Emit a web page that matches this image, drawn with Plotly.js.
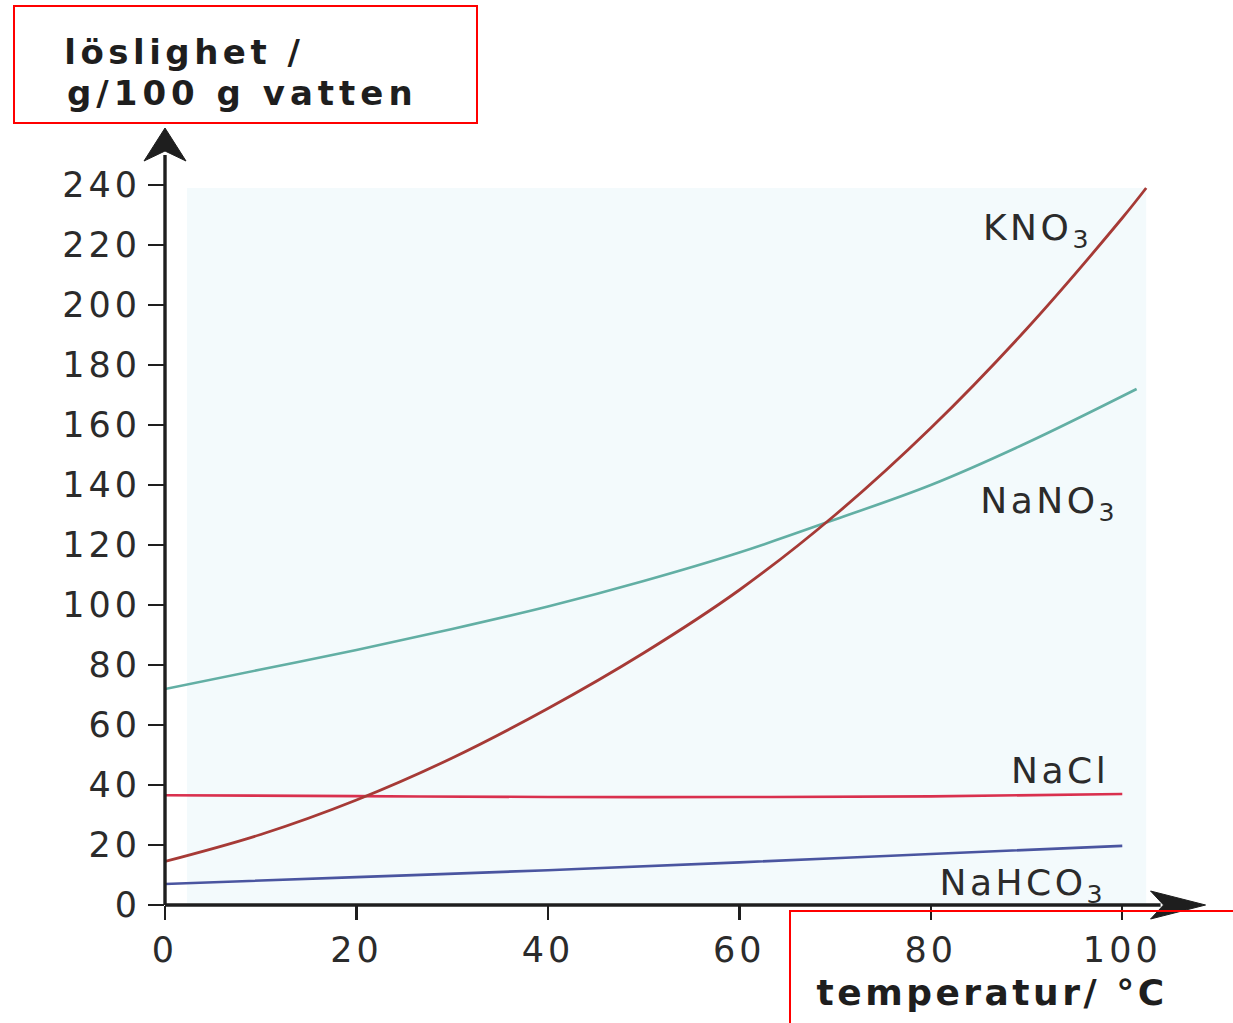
<!DOCTYPE html>
<html>
<head>
<meta charset="utf-8">
<script src="https://cdn.plot.ly/plotly-3.0.1.min.js"></script>
<style>html,body{margin:0;padding:0;background:#fff;}#chart{width:1233px;height:1023px;}</style>
</head>
<body>
<div id="chart"></div>
<script>
// ---- data ----
const temperatureKNO3 = [0, 10, 20, 30, 40, 50, 60, 70, 80, 90, 100, 102.5];
const solubilityKNO3 = [14.5, 23.5, 35, 49, 65.5, 84, 105, 130, 159, 192, 229, 239];

const temperatureNaNO3 = [0, 10, 20, 30, 40, 50, 60, 70, 80, 90, 101.5];
const solubilityNaNO3 = [72, 78.5, 85, 92, 99.5, 108, 117.5, 128.5, 140, 154, 172];

const temperatureNaCl = [0, 20, 40, 60, 80, 100];
const solubilityNaCl = [36.6, 36.3, 36.0, 36.0, 36.2, 37.0];

const temperatureNaHCO3 = [0, 20, 40, 60, 80, 100];
const solubilityNaHCO3 = [7.0, 9.3, 11.6, 14.2, 17.0, 19.7];

const xTicks = [0, 20, 40, 60, 80, 100];
const yTicks = [0, 20, 40, 60, 80, 100, 120, 140, 160, 180, 200, 220, 240];

const seriesNames = ["KNO<sub>3</sub>", "NaNO<sub>3</sub>", "NaCl", "NaHCO<sub>3</sub>"];
const yTitleLines = ["löslighet /", "g/100 g vatten"];
const xTitle = "temperatur/ °C";

// ---- layout helpers ----
const L = 165, T = 125, PW = 1053, PH = 780;
const X_MAX = 110, Y_MAX = 260;
const px = v => (v - L) / PW;
const py = v => (T + PH - v) / PH;
const FONT = "DejaVu Sans";
const ink = "#2b2b2b";
const axisInk = "#1e1e1e";

function line(x, y, color, w) {
  return {x: x, y: y, type: "scatter", mode: "lines",
    line: {color: color, width: w, shape: "spline", smoothing: 1},
    hoverinfo: "skip", showlegend: false, cliponaxis: false};
}

const traces = [
  line(temperatureNaHCO3, solubilityNaHCO3, "#4a55a0", 2.6),
  line(temperatureNaCl, solubilityNaCl, "#d9304e", 2.6),
  line(temperatureNaNO3, solubilityNaNO3, "#62afa4", 2.6),
  line(temperatureKNO3, solubilityKNO3, "#a63a36", 2.8)
];

const labelFont = {family: FONT, size: 36, color: ink};
const annotations = [
  // curve labels
  {x: 91.1, y: 225, xref: "x", yref: "y", text: seriesNames[0], showarrow: false, font: labelFont},
  {x: 92.3, y: 134, xref: "x", yref: "y", text: seriesNames[1], showarrow: false, font: labelFont},
  {x: 93.5, y: 45, xref: "x", yref: "y", text: seriesNames[2], showarrow: false, font: labelFont},
  {x: 89.6, y: 6.5, xref: "x", yref: "y", text: seriesNames[3], showarrow: false, font: labelFont},
  // axis titles
  {x: px(184), y: py(52), xref: "paper", yref: "paper", xanchor: "center", yanchor: "middle",
   text: "<b>" + yTitleLines[0] + "</b>", showarrow: false, font: {family: FONT, size: 34, color: axisInk}},
  {x: px(242), y: py(93), xref: "paper", yref: "paper", xanchor: "center", yanchor: "middle",
   text: "<b>" + yTitleLines[1] + "</b>", showarrow: false, font: {family: FONT, size: 34, color: axisInk}},
  {x: px(992), y: py(992), xref: "paper", yref: "paper", xanchor: "center", yanchor: "middle",
   text: "<b>" + xTitle + "</b>", showarrow: false, font: {family: FONT, size: 36, color: axisInk}}
];

const shapes = [
  // faint tinted paper area
  {type: "rect", xref: "x", yref: "y", x0: 2.3, x1: 102.5, y0: 0.6, y1: 239,
   fillcolor: "#f3fafc", line: {width: 0}, layer: "below"},
  // axis lines (paper refs so they are not clipped)
  {type: "line", xref: "paper", yref: "paper", x0: 0, x1: 0, y0: 0, y1: 250 / Y_MAX,
   line: {color: axisInk, width: 3.4}},
  {type: "line", xref: "paper", yref: "paper", x0: 0, x1: 104 / X_MAX, y0: 0, y1: 0,
   line: {color: axisInk, width: 3.4}},
  // arrow heads (pixel sized)
  {type: "path", xref: "paper", yref: "paper", xsizemode: "pixel", ysizemode: "pixel",
   xanchor: 0, yanchor: 259 / Y_MAX,
   path: "M0,0 L-21,-33 L0,-23 L21,-33 Z", fillcolor: axisInk, line: {color: axisInk, width: 1}},
  {type: "path", xref: "paper", yref: "paper", xsizemode: "pixel", ysizemode: "pixel",
   xanchor: 108.7 / X_MAX, yanchor: 0,
   path: "M0,0 L-55,14 L-42,0 L-55,-14 Z", fillcolor: axisInk, line: {color: axisInk, width: 1}},
  // red highlight boxes
  {type: "rect", xref: "paper", yref: "paper", x0: px(14), x1: px(477), y0: py(123), y1: py(6),
   line: {color: "#ff0000", width: 2}, fillcolor: "rgba(0,0,0,0)"},
  {type: "rect", xref: "paper", yref: "paper", x0: px(790), x1: px(1245), y0: py(1035), y1: py(911),
   line: {color: "#ff0000", width: 2}, fillcolor: "rgba(0,0,0,0)"}
];

const layout = {
  width: 1233, height: 1023,
  margin: {l: L, r: 1233 - L - PW, t: T, b: 1023 - T - PH, pad: 0},
  paper_bgcolor: "#ffffff", plot_bgcolor: "#ffffff",
  showlegend: false,
  xaxis: {range: [0, X_MAX], tickvals: xTicks, ticktext: xTicks.map(String),
    showgrid: false, zeroline: false, showline: false,
    ticks: "outside", ticklen: 14, tickwidth: 2.4, tickcolor: axisInk,
    tickfont: {family: FONT, size: 35, color: ink}, fixedrange: true},
  yaxis: {range: [0, Y_MAX], tickvals: yTicks, ticktext: yTicks.map(String),
    showgrid: false, zeroline: false, showline: false,
    ticks: "outside", ticklen: 16, tickwidth: 2.4, tickcolor: axisInk,
    tickfont: {family: FONT, size: 35, color: ink}, fixedrange: true},
  annotations: annotations,
  shapes: shapes
};

Plotly.newPlot("chart", traces, layout, {displayModeBar: false, staticPlot: true}).then(gd => {
  // the printed original uses widely set lettering
  gd.querySelectorAll(".xtick text, .ytick text").forEach(t => t.setAttribute("letter-spacing", "4px"));
  const ann = gd.querySelectorAll(".annotation-text");
  ann.forEach((t, i) => {
    let sp = "3.5px";
    if (i === 4) sp = "4.5px";
    if (i === 5) sp = "5px";
    t.setAttribute("letter-spacing", sp);
  });
});
</script>
</body>
</html>
